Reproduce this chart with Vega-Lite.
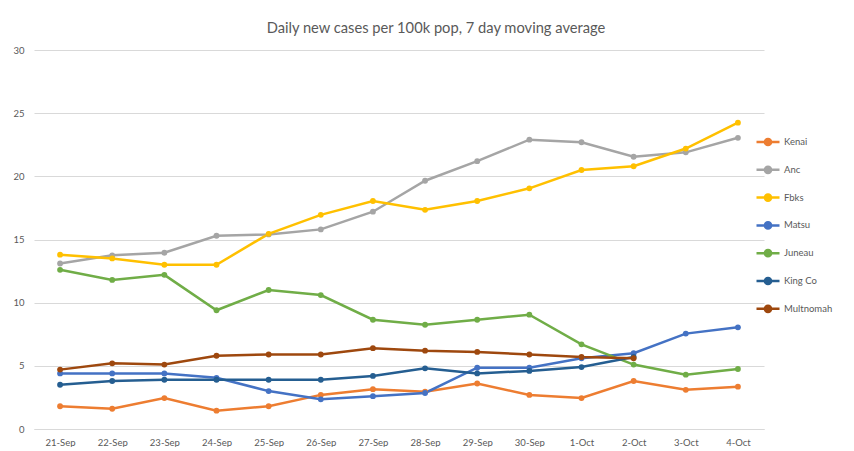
{
  "$schema": "https://vega.github.io/schema/vega-lite/v6.json",
  "width": 730,
  "height": 379,
  "padding": {"left": 4, "top": 21, "right": 0, "bottom": 0},
  "background": "white",
  "title": {
    "text": "Daily new cases per 100k pop, 7 day moving average",
    "fontSize": 14.7,
    "fontWeight": "normal",
    "color": "#595959",
    "font": "Lato",
    "anchor": "middle",
    "dx": 37,
    "offset": 9
  },
  "data": {
    "values": [
      {"date": "21-Sep", "series": "Kenai", "v": 1.8},
      {"date": "22-Sep", "series": "Kenai", "v": 1.6},
      {"date": "23-Sep", "series": "Kenai", "v": 2.45},
      {"date": "24-Sep", "series": "Kenai", "v": 1.45},
      {"date": "25-Sep", "series": "Kenai", "v": 1.8},
      {"date": "26-Sep", "series": "Kenai", "v": 2.7},
      {"date": "27-Sep", "series": "Kenai", "v": 3.15},
      {"date": "28-Sep", "series": "Kenai", "v": 2.95},
      {"date": "29-Sep", "series": "Kenai", "v": 3.6},
      {"date": "30-Sep", "series": "Kenai", "v": 2.7},
      {"date": "1-Oct", "series": "Kenai", "v": 2.45},
      {"date": "2-Oct", "series": "Kenai", "v": 3.8},
      {"date": "3-Oct", "series": "Kenai", "v": 3.1},
      {"date": "4-Oct", "series": "Kenai", "v": 3.35},
      {"date": "21-Sep", "series": "Anc", "v": 13.1},
      {"date": "22-Sep", "series": "Anc", "v": 13.75},
      {"date": "23-Sep", "series": "Anc", "v": 13.95},
      {"date": "24-Sep", "series": "Anc", "v": 15.3},
      {"date": "25-Sep", "series": "Anc", "v": 15.4},
      {"date": "26-Sep", "series": "Anc", "v": 15.8},
      {"date": "27-Sep", "series": "Anc", "v": 17.2},
      {"date": "28-Sep", "series": "Anc", "v": 19.65},
      {"date": "29-Sep", "series": "Anc", "v": 21.2},
      {"date": "30-Sep", "series": "Anc", "v": 22.9},
      {"date": "1-Oct", "series": "Anc", "v": 22.7},
      {"date": "2-Oct", "series": "Anc", "v": 21.55},
      {"date": "3-Oct", "series": "Anc", "v": 21.9},
      {"date": "4-Oct", "series": "Anc", "v": 23.05},
      {"date": "21-Sep", "series": "Fbks", "v": 13.8},
      {"date": "22-Sep", "series": "Fbks", "v": 13.5},
      {"date": "23-Sep", "series": "Fbks", "v": 13.0},
      {"date": "24-Sep", "series": "Fbks", "v": 13.0},
      {"date": "25-Sep", "series": "Fbks", "v": 15.45},
      {"date": "26-Sep", "series": "Fbks", "v": 16.95},
      {"date": "27-Sep", "series": "Fbks", "v": 18.05},
      {"date": "28-Sep", "series": "Fbks", "v": 17.35},
      {"date": "29-Sep", "series": "Fbks", "v": 18.05},
      {"date": "30-Sep", "series": "Fbks", "v": 19.05},
      {"date": "1-Oct", "series": "Fbks", "v": 20.5},
      {"date": "2-Oct", "series": "Fbks", "v": 20.8},
      {"date": "3-Oct", "series": "Fbks", "v": 22.2},
      {"date": "4-Oct", "series": "Fbks", "v": 24.25},
      {"date": "21-Sep", "series": "Matsu", "v": 4.4},
      {"date": "22-Sep", "series": "Matsu", "v": 4.4},
      {"date": "23-Sep", "series": "Matsu", "v": 4.4},
      {"date": "24-Sep", "series": "Matsu", "v": 4.05},
      {"date": "25-Sep", "series": "Matsu", "v": 3.0},
      {"date": "26-Sep", "series": "Matsu", "v": 2.35},
      {"date": "27-Sep", "series": "Matsu", "v": 2.6},
      {"date": "28-Sep", "series": "Matsu", "v": 2.85},
      {"date": "29-Sep", "series": "Matsu", "v": 4.85},
      {"date": "30-Sep", "series": "Matsu", "v": 4.85},
      {"date": "1-Oct", "series": "Matsu", "v": 5.6},
      {"date": "2-Oct", "series": "Matsu", "v": 6.0},
      {"date": "3-Oct", "series": "Matsu", "v": 7.55},
      {"date": "4-Oct", "series": "Matsu", "v": 8.05},
      {"date": "21-Sep", "series": "Juneau", "v": 12.6},
      {"date": "22-Sep", "series": "Juneau", "v": 11.8},
      {"date": "23-Sep", "series": "Juneau", "v": 12.2},
      {"date": "24-Sep", "series": "Juneau", "v": 9.4},
      {"date": "25-Sep", "series": "Juneau", "v": 11.0},
      {"date": "26-Sep", "series": "Juneau", "v": 10.6},
      {"date": "27-Sep", "series": "Juneau", "v": 8.65},
      {"date": "28-Sep", "series": "Juneau", "v": 8.25},
      {"date": "29-Sep", "series": "Juneau", "v": 8.65},
      {"date": "30-Sep", "series": "Juneau", "v": 9.05},
      {"date": "1-Oct", "series": "Juneau", "v": 6.7},
      {"date": "2-Oct", "series": "Juneau", "v": 5.1},
      {"date": "3-Oct", "series": "Juneau", "v": 4.3},
      {"date": "4-Oct", "series": "Juneau", "v": 4.75},
      {"date": "21-Sep", "series": "King Co", "v": 3.5},
      {"date": "22-Sep", "series": "King Co", "v": 3.8},
      {"date": "23-Sep", "series": "King Co", "v": 3.9},
      {"date": "24-Sep", "series": "King Co", "v": 3.9},
      {"date": "25-Sep", "series": "King Co", "v": 3.9},
      {"date": "26-Sep", "series": "King Co", "v": 3.9},
      {"date": "27-Sep", "series": "King Co", "v": 4.2},
      {"date": "28-Sep", "series": "King Co", "v": 4.8},
      {"date": "29-Sep", "series": "King Co", "v": 4.4},
      {"date": "30-Sep", "series": "King Co", "v": 4.6},
      {"date": "1-Oct", "series": "King Co", "v": 4.9},
      {"date": "2-Oct", "series": "King Co", "v": 5.7},
      {"date": "21-Sep", "series": "Multnomah", "v": 4.7},
      {"date": "22-Sep", "series": "Multnomah", "v": 5.2},
      {"date": "23-Sep", "series": "Multnomah", "v": 5.1},
      {"date": "24-Sep", "series": "Multnomah", "v": 5.8},
      {"date": "25-Sep", "series": "Multnomah", "v": 5.9},
      {"date": "26-Sep", "series": "Multnomah", "v": 5.9},
      {"date": "27-Sep", "series": "Multnomah", "v": 6.4},
      {"date": "28-Sep", "series": "Multnomah", "v": 6.2},
      {"date": "29-Sep", "series": "Multnomah", "v": 6.1},
      {"date": "30-Sep", "series": "Multnomah", "v": 5.9},
      {"date": "1-Oct", "series": "Multnomah", "v": 5.7},
      {"date": "2-Oct", "series": "Multnomah", "v": 5.6}
    ]
  },
  "mark": {"type": "line", "strokeWidth": 2.5, "point": {"filled": true, "size": 34}},
  "encoding": {
    "x": {
      "field": "date",
      "type": "ordinal",
      "sort": null,
      "scale": {"type": "point", "padding": 0.5},
      "axis": {
        "title": null,
        "labelAngle": 0,
        "ticks": false,
        "grid": false,
        "domainColor": "#D9D9D9",
        "domainWidth": 1,
        "labelPadding": 8,
        "labelFontSize": 9.5,
        "labelColor": "#595959",
        "labelFont": "Lato"
      }
    },
    "y": {
      "field": "v",
      "type": "quantitative",
      "scale": {"domain": [0, 30], "nice": false},
      "axis": {
        "title": null,
        "values": [0, 5, 10, 15, 20, 25, 30],
        "ticks": false,
        "domain": false,
        "gridColor": "#D9D9D9",
        "gridWidth": 1,
        "labelPadding": 10,
        "labelFontSize": 9.5,
        "labelColor": "#595959",
        "labelFont": "Lato",
        "minExtent": 30,
        "maxExtent": 30
      }
    },
    "color": {
      "field": "series",
      "type": "nominal",
      "sort": ["Kenai", "Anc", "Fbks", "Matsu", "Juneau", "King Co", "Multnomah"],
      "scale": {
        "domain": ["Kenai", "Anc", "Fbks", "Matsu", "Juneau", "King Co", "Multnomah"],
        "range": ["#ED7D31", "#A5A5A5", "#FFC000", "#4472C4", "#70AD47", "#255E91", "#9E480E"]
      },
      "legend": {
        "title": null,
        "orient": "none",
        "legendX": 721,
        "legendY": 79,
        "symbolType": "M-1,0L1,0M-0.27,0A0.27,0.27 0 1,0 0.27,0A0.27,0.27 0 1,0 -0.27,0Z",
        "symbolSize": 529,
        "symbolStrokeWidth": 2.5,
        "rowPadding": 5.8,
        "labelOffset": 3,
        "labelFontSize": 9.5,
        "labelColor": "#595959",
        "labelFont": "Lato"
      }
    }
  },
  "config": {
    "view": {"stroke": null},
    "font": "Lato"
  }
}
